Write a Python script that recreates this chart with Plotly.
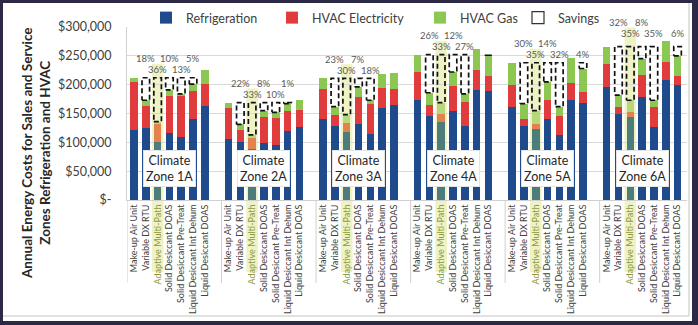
import plotly.graph_objects as go

# ---------------- data ----------------
zones = ["1A", "2A", "3A", "4A", "5A", "6A"]
systems = [
    "Make-up Air Unit",
    "Variable DX RTU",
    "Adaptive Multi-Path",
    "Solid Desiccant DOAS",
    "Solid Desiccant Pre-Treat",
    "Liquid Desiccant Int Dehum",
    "Liquid Desiccant DOAS",
]
refrigeration = [
    [121000, 124000, 101000, 117000, 109000, 140000, 163000],
    [105000, 101000, 89000, 99000, 95000, 119000, 126000],
    [140000, 128000, 118000, 131000, 115000, 159000, 164000],
    [173000, 146000, 136000, 155000, 128000, 190000, 189000],
    [161000, 128000, 123000, 141000, 112000, 173000, 169000],
    [196000, 149000, 144000, 179000, 126000, 208000, 199000],
]
hvac_electricity = [
    [83000, 39000, 32000, 64000, 73000, 49000, 38000],
    [54000, 21000, 19000, 45000, 48000, 35000, 30000],
    [52000, 19000, 15000, 47000, 52000, 36000, 28000],
    [49000, 18000, 14000, 42000, 42000, 36000, 26000],
    [38000, 13000, 9000, 32000, 33000, 30000, 18000],
    [39000, 12000, 9000, 37000, 35000, 31000, 16000],
]
hvac_gas = [
    [8000, 10000, 3000, 10000, 2000, 12000, 24000],
    [10000, 9000, 5000, 11000, 9000, 13000, 17000],
    [19000, 15000, 15000, 18000, 6000, 24000, 29000],
    [30000, 22000, 19000, 25000, 14000, 35000, 36000],
    [39000, 26000, 23000, 32000, 17000, 44000, 41000],
    [31000, 21000, 20000, 29000, 12000, 37000, 35000],
]
savings_labels = [
    ["", "18%", "36%", "10%", "13%", "5%", ""],
    ["", "22%", "33%", "8%", "10%", "1%", ""],
    ["", "23%", "30%", "7%", "18%", "", ""],
    ["", "26%", "33%", "12%", "27%", "", ""],
    ["", "30%", "35%", "14%", "32%", "", "4%"],
    ["", "32%", "35%", "8%", "35%", "", "6%"],
]
y_tick_values = [0, 50000, 100000, 150000, 200000, 250000, 300000]
y_tick_labels = ["$-", "$50,000", "$100,000", "$150,000", "$200,000", "$250,000", "$300,000"]

# ---------------- layout helpers ----------------
W, H = 698, 325
L, R, T, B = 127, 11, 27, 125
PW, PH = W - L - R, H - T - B
Y_MAX = 300000
DPP = Y_MAX / PH  # dollars per pixel


def pxx(px):
    return (px - L) / PW


def pxy(py):
    return (H - B - py) / PH


FONT = "Lato, 'Open Sans', sans-serif"
BLUE, RED, GREEN = "#1f4a8c", "#e03c3e", "#8cc751"
HL_BLUE, HL_RED, HL_GREEN = "#4d7d7b", "#e4824e", "#b7d77c"
HL_BG = "#eef2c4"
HIGHLIGHT_IDX = systems.index("Adaptive Multi-Path")
SLOT = len(systems) + 1
BAR_W = 0.64
X_RANGE = [-0.59, 46.8]
LEGEND_MARKER_PX = [168, 294, 442, 540]
LABEL_EXTRA_SHIFT_PX = [0, 0, 0, 0, 0, 5]   # manual nudge of the top-most label row

xs, ref_f, ele_f, gas_f = [], [], [], []
c_ref, c_ele, c_gas = [], [], []
ticktext = []
for z in range(len(zones)):
    for i, s in enumerate(systems):
        xs.append(z * SLOT + i)
        ref_f.append(refrigeration[z][i])
        ele_f.append(hvac_electricity[z][i])
        gas_f.append(hvac_gas[z][i])
        hl = i == HIGHLIGHT_IDX
        c_ref.append(HL_BLUE if hl else BLUE)
        c_ele.append(HL_RED if hl else RED)
        c_gas.append(HL_GREEN if hl else GREEN)
        ticktext.append(f"<span style='color:#8c9a3c'>{s}</span>" if hl else s)

fig = go.Figure()
fig.add_bar(x=xs, y=ref_f, name="Refrigeration", width=BAR_W,
            marker=dict(color=c_ref, line=dict(width=0)), legend="legend")
fig.add_bar(x=xs, y=ele_f, name="HVAC Electricity", width=BAR_W,
            marker=dict(color=c_ele, line=dict(width=0)), legend="legend2")
fig.add_bar(x=xs, y=gas_f, name="HVAC Gas", width=BAR_W,
            marker=dict(color=c_gas, line=dict(width=0)), legend="legend3")

# savings boxes (dashed outlines from bar total up to zone baseline)
sx, sy = [], []
annotations = []
shapes = []
for z in range(len(zones)):
    base = refrigeration[z][0] + hvac_electricity[z][0] + hvac_gas[z][0]
    for i in range(1, len(systems)):
        tot = refrigeration[z][i] + hvac_electricity[z][i] + hvac_gas[z][i]
        c = z * SLOT + i
        if tot < base:
            h = BAR_W / 2
            sx += [c - h, c + h, c + h, c - h, c - h, None]
            sy += [tot, tot, base, base, tot, None]
        lab = savings_labels[z][i]
        if lab:
            annotations.append(dict(
                x=c, y=base, xref="x", yref="y", text=lab, showarrow=False,
                yshift=(19 if i % 2 == 1 else 8) + LABEL_EXTRA_SHIFT_PX[z],
                yanchor="middle",
                font=dict(family=FONT, size=9.5, color="#595959")))
    # highlight column for Adaptive Multi-Path
    c = z * SLOT + HIGHLIGHT_IDX
    shapes.append(dict(type="rect", xref="x", yref="y", x0=c - 0.49, x1=c + 0.49,
                       y0=0, y1=base + (14 + LABEL_EXTRA_SHIFT_PX[z]) * DPP,
                       fillcolor=HL_BG, line=dict(width=0), layer="below"))
    shapes.append(dict(type="rect", xref="x", yref="paper", x0=c - 0.49, x1=c + 0.49,
                       y0=pxy(272), y1=0, fillcolor=HL_BG, line=dict(width=0),
                       layer="below"))
    # group separator in the category label area
    shapes.append(dict(type="line", xref="x", yref="paper", x0=z * SLOT + X_RANGE[0],
                       x1=z * SLOT + X_RANGE[0], y0=0, y1=pxy(283),
                       line=dict(color="#d0d0d0", width=1), layer="below"))
    # climate zone label box
    annotations.append(dict(
        x=z * SLOT + 3, y=54000, xref="x", yref="y",
        text=f"Climate<br>Zone {zones[z]}", showarrow=False,
        bgcolor="white", bordercolor="#e4e4e4", borderwidth=1, borderpad=2,
        font=dict(family=FONT, size=12.5, color="#262626")))

fig.add_scatter(x=sx, y=sy, mode="lines", showlegend=False, hoverinfo="skip",
                line=dict(color="#111111", width=1.7, dash="5px,3px"))
fig.add_bar(x=[None], y=[None], name="Savings", legend="legend4",
            marker=dict(color="white", line=dict(color="#333333", width=1.2)))

# slide frame: white card on dark border
frame = [
    dict(type="rect", xref="paper", yref="paper", x0=pxx(3), x1=pxx(692),
         y0=pxy(321), y1=pxy(3), fillcolor="white", line=dict(width=0), layer="below"),
    dict(type="line", xref="paper", yref="paper", x0=pxx(3), x1=pxx(689),
         y0=pxy(316), y1=pxy(316), line=dict(color="#c4c4c4", width=1), layer="below"),
    dict(type="line", xref="paper", yref="paper", x0=pxx(689), x1=pxx(689),
         y0=pxy(316), y1=pxy(3), line=dict(color="#c4c4c4", width=1), layer="below"),
]

annotations.append(dict(
    x=pxx(36), y=pxy(153), xref="paper", yref="paper", showarrow=False,
    textangle=-90, xanchor="center", yanchor="middle",
    text="<b>Annual Energy Costs for Sales and Service<br>Zones Refrigeration and HVAC</b>",
    font=dict(family=FONT, size=13.5, color="#262626")))


def legend_at(px):
    return dict(orientation="h", x=pxx(px - 22), y=pxy(18), xanchor="left",
                yanchor="middle", bgcolor="rgba(0,0,0,0)",
                font=dict(family=FONT, size=12.5, color="#404040"))


fig.update_layout(
    width=W, height=H,
    margin=dict(l=L, r=R, t=T, b=B, pad=0, autoexpand=False),
    paper_bgcolor="#2b2946", plot_bgcolor="white",
    barmode="stack", bargap=0,
    font=dict(family=FONT, color="#404040"),
    shapes=frame + shapes,
    annotations=annotations,
    showlegend=True,
    legend=legend_at(LEGEND_MARKER_PX[0]),
    legend2=legend_at(LEGEND_MARKER_PX[1]),
    legend3=legend_at(LEGEND_MARKER_PX[2]),
    legend4=legend_at(LEGEND_MARKER_PX[3]),
    xaxis=dict(range=X_RANGE, tickmode="array", tickvals=xs, ticktext=ticktext,
               tickangle=-90, tickfont=dict(family=FONT, size=9, color="#404040"),
               showgrid=False, zeroline=False, showline=True, linecolor="#d0d0d0",
               ticks="", automargin=False),
    yaxis=dict(range=[0, Y_MAX], tickmode="array", tickvals=y_tick_values,
               ticktext=y_tick_labels, tickfont=dict(family=FONT, size=12.5, color="#404040"),
               showgrid=True, gridcolor="#d9d9d9", zeroline=False, showline=True,
               linecolor="#d0d0d0", ticks="", ticklabelstandoff=12, automargin=False),
)

fig.write_html("out.html")
